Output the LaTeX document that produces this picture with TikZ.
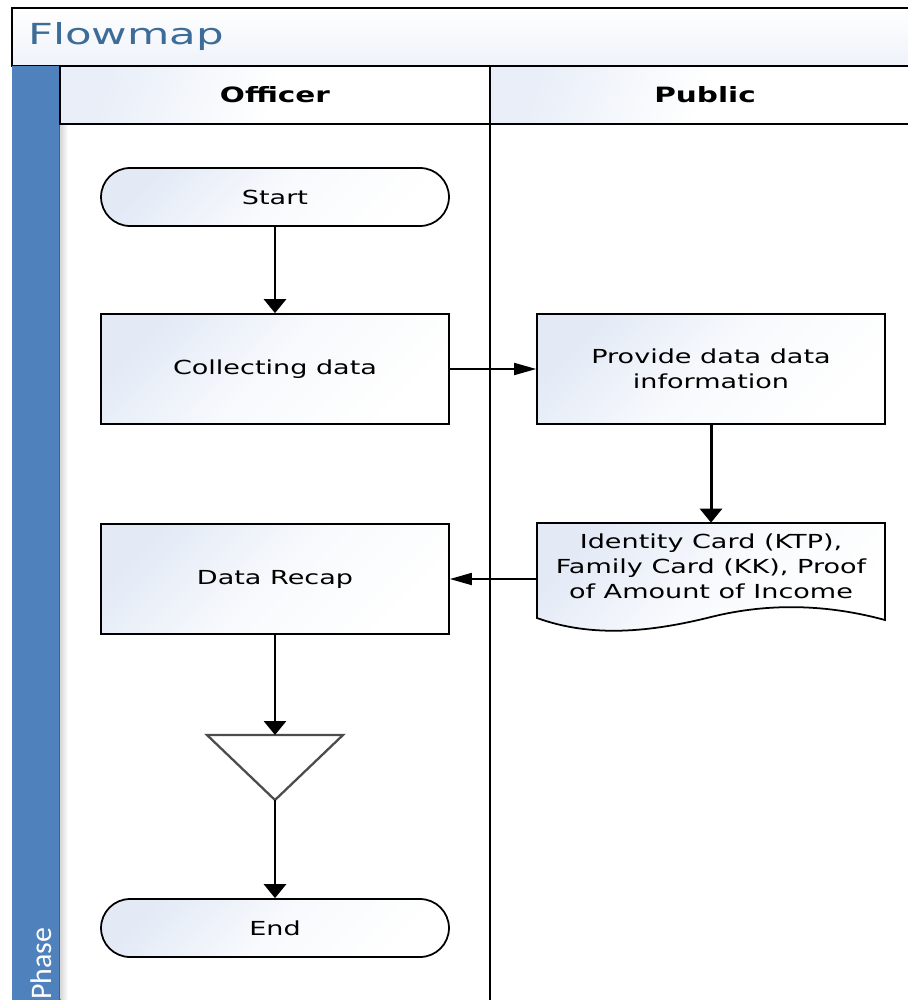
\documentclass[tikz,border=0pt]{standalone}
\usepackage{fontspec}
\setmainfont{DejaVu Sans}[FakeStretch=1.4]
\newfontfamily\titlefont{DejaVu Sans}[FakeStretch=1.5]
\newfontfamily\phasefont{Carlito}
\usetikzlibrary{arrows.meta}

\definecolor{phaseblue}{HTML}{4F81BD}
\definecolor{titleblue}{HTML}{3E6C98}
\definecolor{tint}{HTML}{E3EAF6}

\begin{document}
\begin{tikzpicture}[x=0.02cm,y=-0.02cm,
    every node/.style={font=\fontsize{11}{14.2}\selectfont},
    box/.style={draw, line width=1pt, minimum width=6.96cm, align=center,
      top color=tint, bottom color=white, middle color=white!75!tint, shading angle=45},
    proc/.style={box, minimum height=2.2cm},
    term/.style={box, minimum height=1.16cm, rounded corners=0.58cm},
    lanehead/.style={draw, line width=1pt, top color=tint!80, bottom color=white,
      middle color=white, shading angle=70},
    flowv/.style={-{Triangle[length=0.28cm,width=0.44cm]}, line width=1.7pt},
    flowh/.style={-{Triangle[length=0.44cm,width=0.24cm]}, line width=1pt}]
    \useasboundingbox (0,0) rectangle (908,1000);
    \clip (0,0) rectangle (908,1000);

    % title band
    \draw[line width=1.2pt, top color=white, bottom color=tint!60] (12,8) rectangle (920,66);
    \node[anchor=west, text=titleblue, font=\titlefont\fontsize{16.5}{20}\selectfont] (title) at (22,37) {Flowmap};

    % phase band
    \fill[phaseblue] (12,66) rectangle (60,1010);
    \draw[phaseblue!75!black, line width=0.6pt] (60,66) -- (60,1010);
    \shade[left color=black!15, right color=white] (60.5,124) rectangle (68,1010);
    \node[rotate=90, anchor=west, inner sep=0pt, text=white, font=\phasefont\fontsize{17}{18}\selectfont] (phase) at (41,1000) {Phase};

    % lanes
    \draw[lanehead] (60,66) rectangle (490,124);
    \draw[lanehead] (490,66) rectangle (920,124);
    \node[font=\bfseries\fontsize{12}{14}\selectfont] (officer) at (275,95) {Officer};
    \node[font=\bfseries\fontsize{12}{14}\selectfont] (public) at (705,95) {Public};
    \draw[line width=1pt] (490,124) -- (490,1010);

    % document shape
    \draw[line width=1pt, top color=tint, bottom color=white, middle color=white!75!tint, shading angle=45]
      (537,523) -- (885,523) -- (885,620)
      .. controls (830,605) and (771,602) .. (711,617)
      .. controls (651,632) and (592,638) .. (537,618) -- cycle;

    \node[term] (start) at (275,197) {Start};
    \node[proc] (collect) at (275,369) {Collecting data};
    \node[proc] (provide) at (711,369) {Provide data data\\information};
    \node[minimum width=6.96cm, minimum height=1.72cm, align=center] (doc) at (711,566)
      {Identity Card (KTP),\\Family Card (KK), Proof\\of Amount of Income};
    \node[proc] (recap) at (275,579) {Data Recap};
    \node[term] (finish) at (275,928) {End};

    % merge
    \coordinate (mtop) at (275,735);
    \coordinate (mbot) at (275,800);
    \draw[black!70, line width=1.3pt] (207,735) -- (343,735) -- (mbot) -- cycle;

    \draw[flowv] (start) -- (collect);
    \draw[flowh] (collect) -- (provide);
    \draw[flowv] (provide) -- (doc.north);
    \draw[flowh] (recap.east -| doc.west) -- (recap.east);
    \draw[flowv] (recap) -- (mtop);
    \draw[flowv] (mbot) -- (finish);
\end{tikzpicture}
\end{document}
